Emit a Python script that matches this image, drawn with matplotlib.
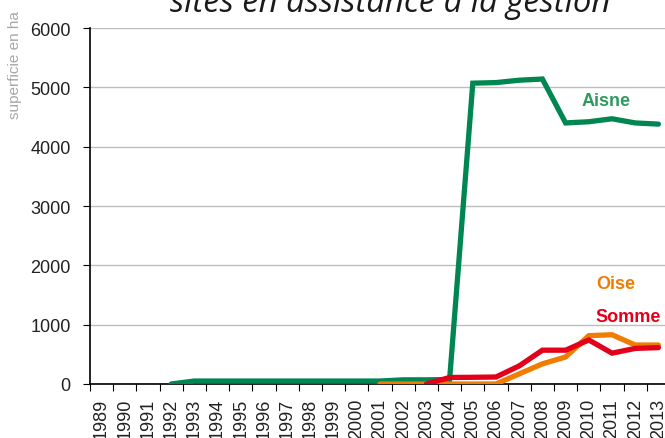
import matplotlib
matplotlib.use("Agg")
import matplotlib.pyplot as plt
import numpy as np

years = [str(y) for y in range(1989, 2014)]
nan = np.nan
aisne = [nan, nan, nan, 0, 50, 50, 50, 50, 50, 50, 50, 50, 50, 70, 70, 75,
         5070, 5080, 5120, 5140, 4400, 4420, 4470, 4400, 4380]
oise = [nan] * 12 + [0, 0, 0, 0, 0, 0, 170, 340, 455, 815, 830, 657, 657]
somme = [nan] * 14 + [0, 110, 113, 118, 305, 570, 570, 742, 520, 600, 613]

GREEN = "#008651"
ORANGE = "#F07D00"
RED = "#E2001A"

plt.rcParams["font.family"] = ["Liberation Sans", "DejaVu Sans"]

fig = plt.figure(figsize=(6.65, 4.39), dpi=100)
ax = fig.add_axes([90 / 665, 1 - 385 / 439, 580 / 665, 356 / 439])

x = np.arange(len(years))
ax.plot(x, aisne, color=GREEN, lw=3.8, solid_capstyle="round", solid_joinstyle="miter", zorder=3)
ax.plot(x, oise, color=ORANGE, lw=3.8, solid_capstyle="round", solid_joinstyle="miter", zorder=3)
ax.plot(x, somme, color=RED, lw=3.8, solid_capstyle="round", solid_joinstyle="miter", zorder=4)

ax.set_xlim(-0.5, len(years) - 0.5)
ax.set_ylim(0, 6000)
ax.set_yticks(range(0, 6001, 1000))
ax.tick_params(axis="y", labelsize=13, length=5, pad=9, direction="out", colors="black")
ax.tick_params(axis="y", labelcolor="#222222")
ax.set_xticks(np.arange(-0.5, len(years), 1.0))
ax.set_xticklabels([])
ax.tick_params(axis="x", length=5, direction="out")
ax.set_xticks(x, minor=True)
ax.set_xticklabels(years, minor=True, rotation=90, fontsize=13, color="#222222")
ax.tick_params(axis="x", which="minor", length=0, pad=10)

ax.grid(axis="y", color="#bdbdbd", lw=1.0)
ax.set_axisbelow(True)
for s in ["top", "right"]:
    ax.spines[s].set_visible(False)
ax.spines["left"].set_linewidth(1.2)
ax.spines["bottom"].set_linewidth(1.2)

ax.text(20.7, 4770, "Aisne", color="#2E9A5E", fontsize=13, fontweight="bold",
        ha="left", va="center")
ax.text(21.3, 1700, "Oise", color=ORANGE, fontsize=13, fontweight="bold",
        ha="left", va="center")
ax.text(21.3, 1130, "Somme", color=RED, fontsize=13, fontweight="bold",
        ha="left", va="center")

fig.text(15 / 665, 1 - 65 / 439, "superficie en ha", rotation=90, color="#a6a6a6",
         fontsize=11, ha="center", va="center")
fig.text(390 / 665, 1 - 12 / 439, "sites en assistance à la gestion", style="italic",
         fontsize=23.7, ha="center", va="baseline", color="#1a1a1a",
         family=["Open Sans", "DejaVu Sans"])

fig.savefig("out.png", dpi=100)
